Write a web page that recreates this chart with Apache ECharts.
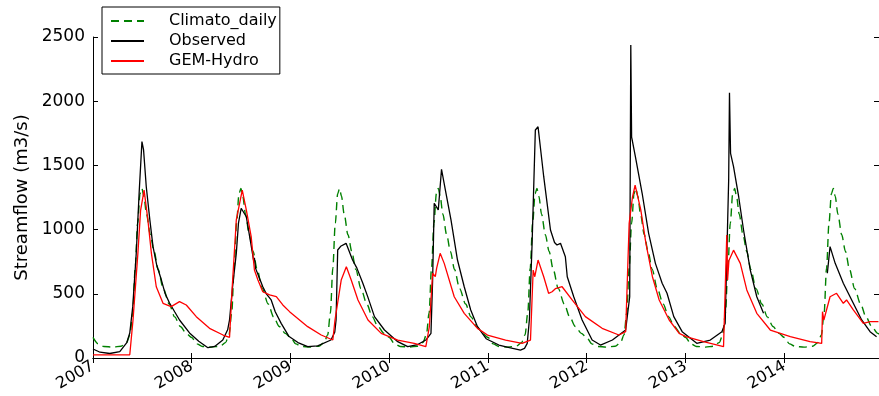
<!DOCTYPE html>
<html>
<head>
<meta charset="utf-8">
<script src="https://cdn.jsdelivr.net/npm/echarts@6/dist/echarts.min.js"></script>
<style>
  html, body { margin: 0; padding: 0; background: #fff; }
  #chart { width: 879px; height: 396px; }
</style>
</head>
<body>
<div id="chart"></div>
<script>
// year tick labels on the x axis
const years = ['2007', '2008', '2009', '2010', '2011', '2012', '2013', '2014'];
const yTicks = [0, 500, 1000, 1500, 2000, 2500];

// Climato_daily: one climatological year (mm-dd, m3/s), same every year
const climatoYear = [
  ['01-01', 160], ['01-20', 110], ['02-10', 90], ['03-15', 85], ['04-15', 92],
  ['05-05', 120], ['05-18', 180], ['05-28', 350], ['06-06', 700], ['06-15', 1050],
  ['06-24', 1280], ['07-01', 1320], ['07-08', 1260], ['07-18', 1120], ['08-01', 960],
  ['08-15', 830], ['08-30', 690], ['09-18', 540], ['10-10', 420], ['10-30', 320],
  ['11-20', 245], ['12-12', 192]
];

// Observed streamflow, '-' marks the missing winter 2013-2014
const observed = [
  ['2007-01-01', 70], ['2007-01-27', 45], ['2007-03-04', 35], ['2007-04-10', 50],
  ['2007-05-06', 120], ['2007-05-17', 195], ['2007-05-28', 400], ['2007-06-10', 818],
  ['2007-06-21', 1300], ['2007-07-01', 1685], ['2007-07-07', 1620], ['2007-07-17', 1334],
  ['2007-07-30', 1080], ['2007-08-11', 867], ['2007-08-25', 720], ['2007-09-11', 607],
  ['2007-09-25', 500], ['2007-10-11', 428], ['2007-10-30', 360], ['2007-11-17', 296],
  ['2007-12-24', 195], ['2008-01-27', 130], ['2008-03-01', 80], ['2008-03-26', 90],
  ['2008-04-25', 140], ['2008-05-13', 220], ['2008-05-20', 296], ['2008-05-31', 550],
  ['2008-06-14', 815], ['2008-06-22', 1050], ['2008-07-02', 1166], ['2008-07-21', 1100],
  ['2008-08-06', 900], ['2008-08-17', 760], ['2008-08-20', 780], ['2008-08-24', 700],
  ['2008-09-08', 620], ['2008-09-20', 555], ['2008-10-03', 500], ['2008-10-21', 452],
  ['2008-11-05', 360], ['2008-11-27', 270], ['2008-12-25', 170], ['2009-01-28', 120],
  ['2009-03-05', 88], ['2009-04-11', 95], ['2009-05-30', 140], ['2009-06-13', 200],
  ['2009-06-18', 296], ['2009-06-24', 841], ['2009-07-05', 870], ['2009-07-25', 893],
  ['2009-08-18', 763], ['2009-09-03', 700], ['2009-09-25', 582], ['2009-10-13', 478],
  ['2009-11-07', 322], ['2009-12-14', 218], ['2010-02-01', 127], ['2010-03-10', 88],
  ['2010-04-16', 105], ['2010-05-16', 140], ['2010-06-04', 192], ['2010-06-10', 600],
  ['2010-06-16', 1205], ['2010-07-01', 1153], ['2010-07-13', 1470], ['2010-07-28', 1300],
  ['2010-08-17', 1075], ['2010-09-10', 763], ['2010-10-05', 555], ['2010-10-29', 374],
  ['2010-11-23', 244], ['2010-12-25', 150], ['2011-02-10', 101], ['2011-03-21', 80],
  ['2011-05-01', 62], ['2011-05-16', 75], ['2011-05-26', 114], ['2011-06-03', 300],
  ['2011-06-13', 893], ['2011-06-25', 1776], ['2011-07-05', 1801], ['2011-07-26', 1412],
  ['2011-08-20', 997], ['2011-09-04', 900], ['2011-09-13', 880], ['2011-09-26', 893],
  ['2011-10-14', 789], ['2011-10-21', 633], ['2011-11-14', 477], ['2011-12-15', 296],
  ['2012-01-21', 140], ['2012-02-21', 101], ['2012-04-05', 140], ['2012-05-24', 218],
  ['2012-06-08', 477], ['2012-06-12', 2437], ['2012-06-15', 1720], ['2012-06-18', 1690],
  ['2012-06-29', 1568], ['2012-07-24', 1283], ['2012-08-17', 971], ['2012-09-11', 737],
  ['2012-10-06', 582], ['2012-10-24', 504], ['2012-11-18', 322], ['2012-12-19', 205],
  ['2013-02-11', 114], ['2013-04-02', 140], ['2013-05-15', 205], ['2013-05-27', 270],
  ['2013-06-09', 1386], ['2013-06-12', 2066], ['2013-06-16', 1594], ['2013-06-27', 1490],
  ['2013-07-16', 1256], ['2013-08-03', 997], ['2013-08-28', 685], ['2013-09-21', 477],
  ['2013-10-16', 348], ['2014-01-01', '-'], ['2014-06-09', 660], ['2014-06-19', 867],
  ['2014-07-08', 737], ['2014-08-07', 582], ['2014-09-13', 426], ['2014-10-14', 296],
  ['2014-11-14', 205], ['2014-12-08', 166]
];

// GEM-Hydro simulated streamflow
const gemHydro = [
  ['2007-01-01', 25], ['2007-05-17', 25], ['2007-05-29', 296], ['2007-06-16', 815],
  ['2007-06-26', 1150], ['2007-07-09', 1308], ['2007-07-23', 1075], ['2007-08-05', 815],
  ['2007-08-23', 555], ['2007-09-17', 426], ['2007-10-17', 400], ['2007-11-17', 439],
  ['2007-12-12', 413], ['2008-01-18', 322], ['2008-03-07', 231], ['2008-04-26', 179],
  ['2008-05-20', 161], ['2008-05-30', 555], ['2008-06-14', 1075], ['2008-07-06', 1308],
  ['2008-07-21', 1153], ['2008-08-08', 945], ['2008-08-20', 685], ['2008-09-02', 607],
  ['2008-09-20', 516], ['2008-10-15', 491], ['2008-11-09', 478], ['2008-12-03', 413],
  ['2008-12-28', 361], ['2009-03-05', 244], ['2009-04-24', 179], ['2009-06-06', 140],
  ['2009-06-14', 296], ['2009-07-07', 607], ['2009-07-26', 711], ['2009-08-13', 607],
  ['2009-09-07', 452], ['2009-10-14', 296], ['2009-12-02', 192], ['2010-02-01', 140],
  ['2010-04-03', 114], ['2010-05-16', 88], ['2010-05-29', 244], ['2010-06-10', 660],
  ['2010-06-20', 633], ['2010-06-25', 700], ['2010-07-08', 815], ['2010-07-23', 737],
  ['2010-08-29', 477], ['2010-10-05', 348], ['2010-11-23', 231], ['2010-12-30', 179],
  ['2011-03-07', 140], ['2011-05-07', 114], ['2011-06-07', 140], ['2011-06-17', 685],
  ['2011-06-23', 633], ['2011-07-05', 763], ['2011-07-26', 633], ['2011-08-13', 504],
  ['2011-08-26', 516], ['2011-09-07', 540], ['2011-10-02', 555], ['2011-11-08', 452],
  ['2011-12-27', 322], ['2012-02-27', 231], ['2012-04-29', 179], ['2012-05-24', 205],
  ['2012-06-06', 1049], ['2012-06-18', 1250], ['2012-06-28', 1347], ['2012-07-19', 1153],
  ['2012-08-07', 893], ['2012-08-31', 633], ['2012-09-25', 452], ['2012-11-01', 296],
  ['2012-12-08', 192], ['2013-01-02', 166], ['2013-03-08', 127], ['2013-05-21', 88],
  ['2013-06-02', 958], ['2013-06-05', 607], ['2013-06-10', 760], ['2013-06-27', 840],
  ['2013-07-22', 737], ['2013-08-15', 530], ['2013-09-21', 348], ['2013-11-10', 218],
  ['2014-01-23', 166], ['2014-04-06', 127], ['2014-05-19', 114], ['2014-05-22', 361],
  ['2014-05-27', 296], ['2014-06-19', 477], ['2014-07-13', 504], ['2014-08-07', 426],
  ['2014-08-19', 452], ['2014-09-13', 374], ['2014-10-20', 270], ['2014-11-14', 283],
  ['2014-12-15', 283]
];

// the climatology repeated for each year on the axis
const climato = [];
years.forEach(y => climatoYear.forEach(([md, v]) => climato.push([y + '-' + md, v])));
climato.push(['2015-01-01', climatoYear[0][1]]);

const chart = echarts.init(document.getElementById('chart'));
const font = 'DejaVu Sans';
const yearMs = 365 * 86400000;

const xBase = {
  type: 'time', min: '2007-01-01', max: '2014-12-17',
  minInterval: yearMs, maxInterval: yearMs + 86400000,
  splitLine: { show: false },
  axisLine: { lineStyle: { color: '#000', width: 1 } },
  axisTick: { inside: true, length: 5, lineStyle: { color: '#000' } }
};
const yBase = {
  type: 'value', min: yTicks[0], max: yTicks[yTicks.length - 1], interval: 500,
  splitLine: { show: false },
  axisLine: { show: true, lineStyle: { color: '#000', width: 1 } },
  axisTick: { show: true, inside: true, length: 5, lineStyle: { color: '#000' } }
};

chart.setOption({
  animation: false,
  backgroundColor: '#fff',
  textStyle: { fontFamily: font },
  grid: { left: 93, top: 37, width: 787, height: 321 },
  legend: {
    left: 102, top: 7, orient: 'vertical',
    padding: [6, 3, 5, 8], itemGap: 4, itemWidth: 33, itemHeight: 14,
    backgroundColor: '#fff', borderColor: '#000', borderWidth: 1, borderRadius: 0,
    itemStyle: { opacity: 0 },
    textStyle: { fontFamily: font, fontSize: 16, color: '#000', padding: [0, 0, 0, 20] },
    data: ['Climato_daily', 'Observed', 'GEM-Hydro']
  },
  xAxis: [
    Object.assign({}, xBase, {
      position: 'bottom',
      axisLabel: {
        rotate: 30, margin: 7, fontSize: 16, color: '#000', fontFamily: font,
        showMinLabel: true, showMaxLabel: false,
        formatter: v => String(new Date(v).getFullYear())
      }
    }),
    Object.assign({}, xBase, { position: 'top', axisLabel: { show: false } })
  ],
  yAxis: [
    Object.assign({}, yBase, {
      position: 'left',
      name: 'Streamflow (m3/s)', nameLocation: 'middle', nameGap: 60,
      nameTextStyle: { fontSize: 18, color: '#000', fontFamily: font },
      axisLabel: { margin: 8, fontSize: 17, color: '#000', fontFamily: font, formatter: v => String(v) }
    }),
    Object.assign({}, yBase, { position: 'right', axisLabel: { show: false } })
  ],
  series: [
    {
      name: 'Climato_daily', type: 'line', symbol: 'none', data: climato,
      smooth: 0.3, smoothMonotone: 'x',
      lineStyle: { color: '#008000', width: 1.4, type: [8, 5] },
      itemStyle: { color: '#008000' }
    },
    {
      name: 'Observed', type: 'line', symbol: 'none', data: observed, connectNulls: false,
      lineStyle: { color: '#000', width: 1.3 }, itemStyle: { color: '#000' }
    },
    {
      name: 'GEM-Hydro', type: 'line', symbol: 'none', data: gemHydro,
      lineStyle: { color: '#ff0000', width: 1.3 }, itemStyle: { color: '#ff0000' }
    }
  ]
});
</script>
</body>
</html>
